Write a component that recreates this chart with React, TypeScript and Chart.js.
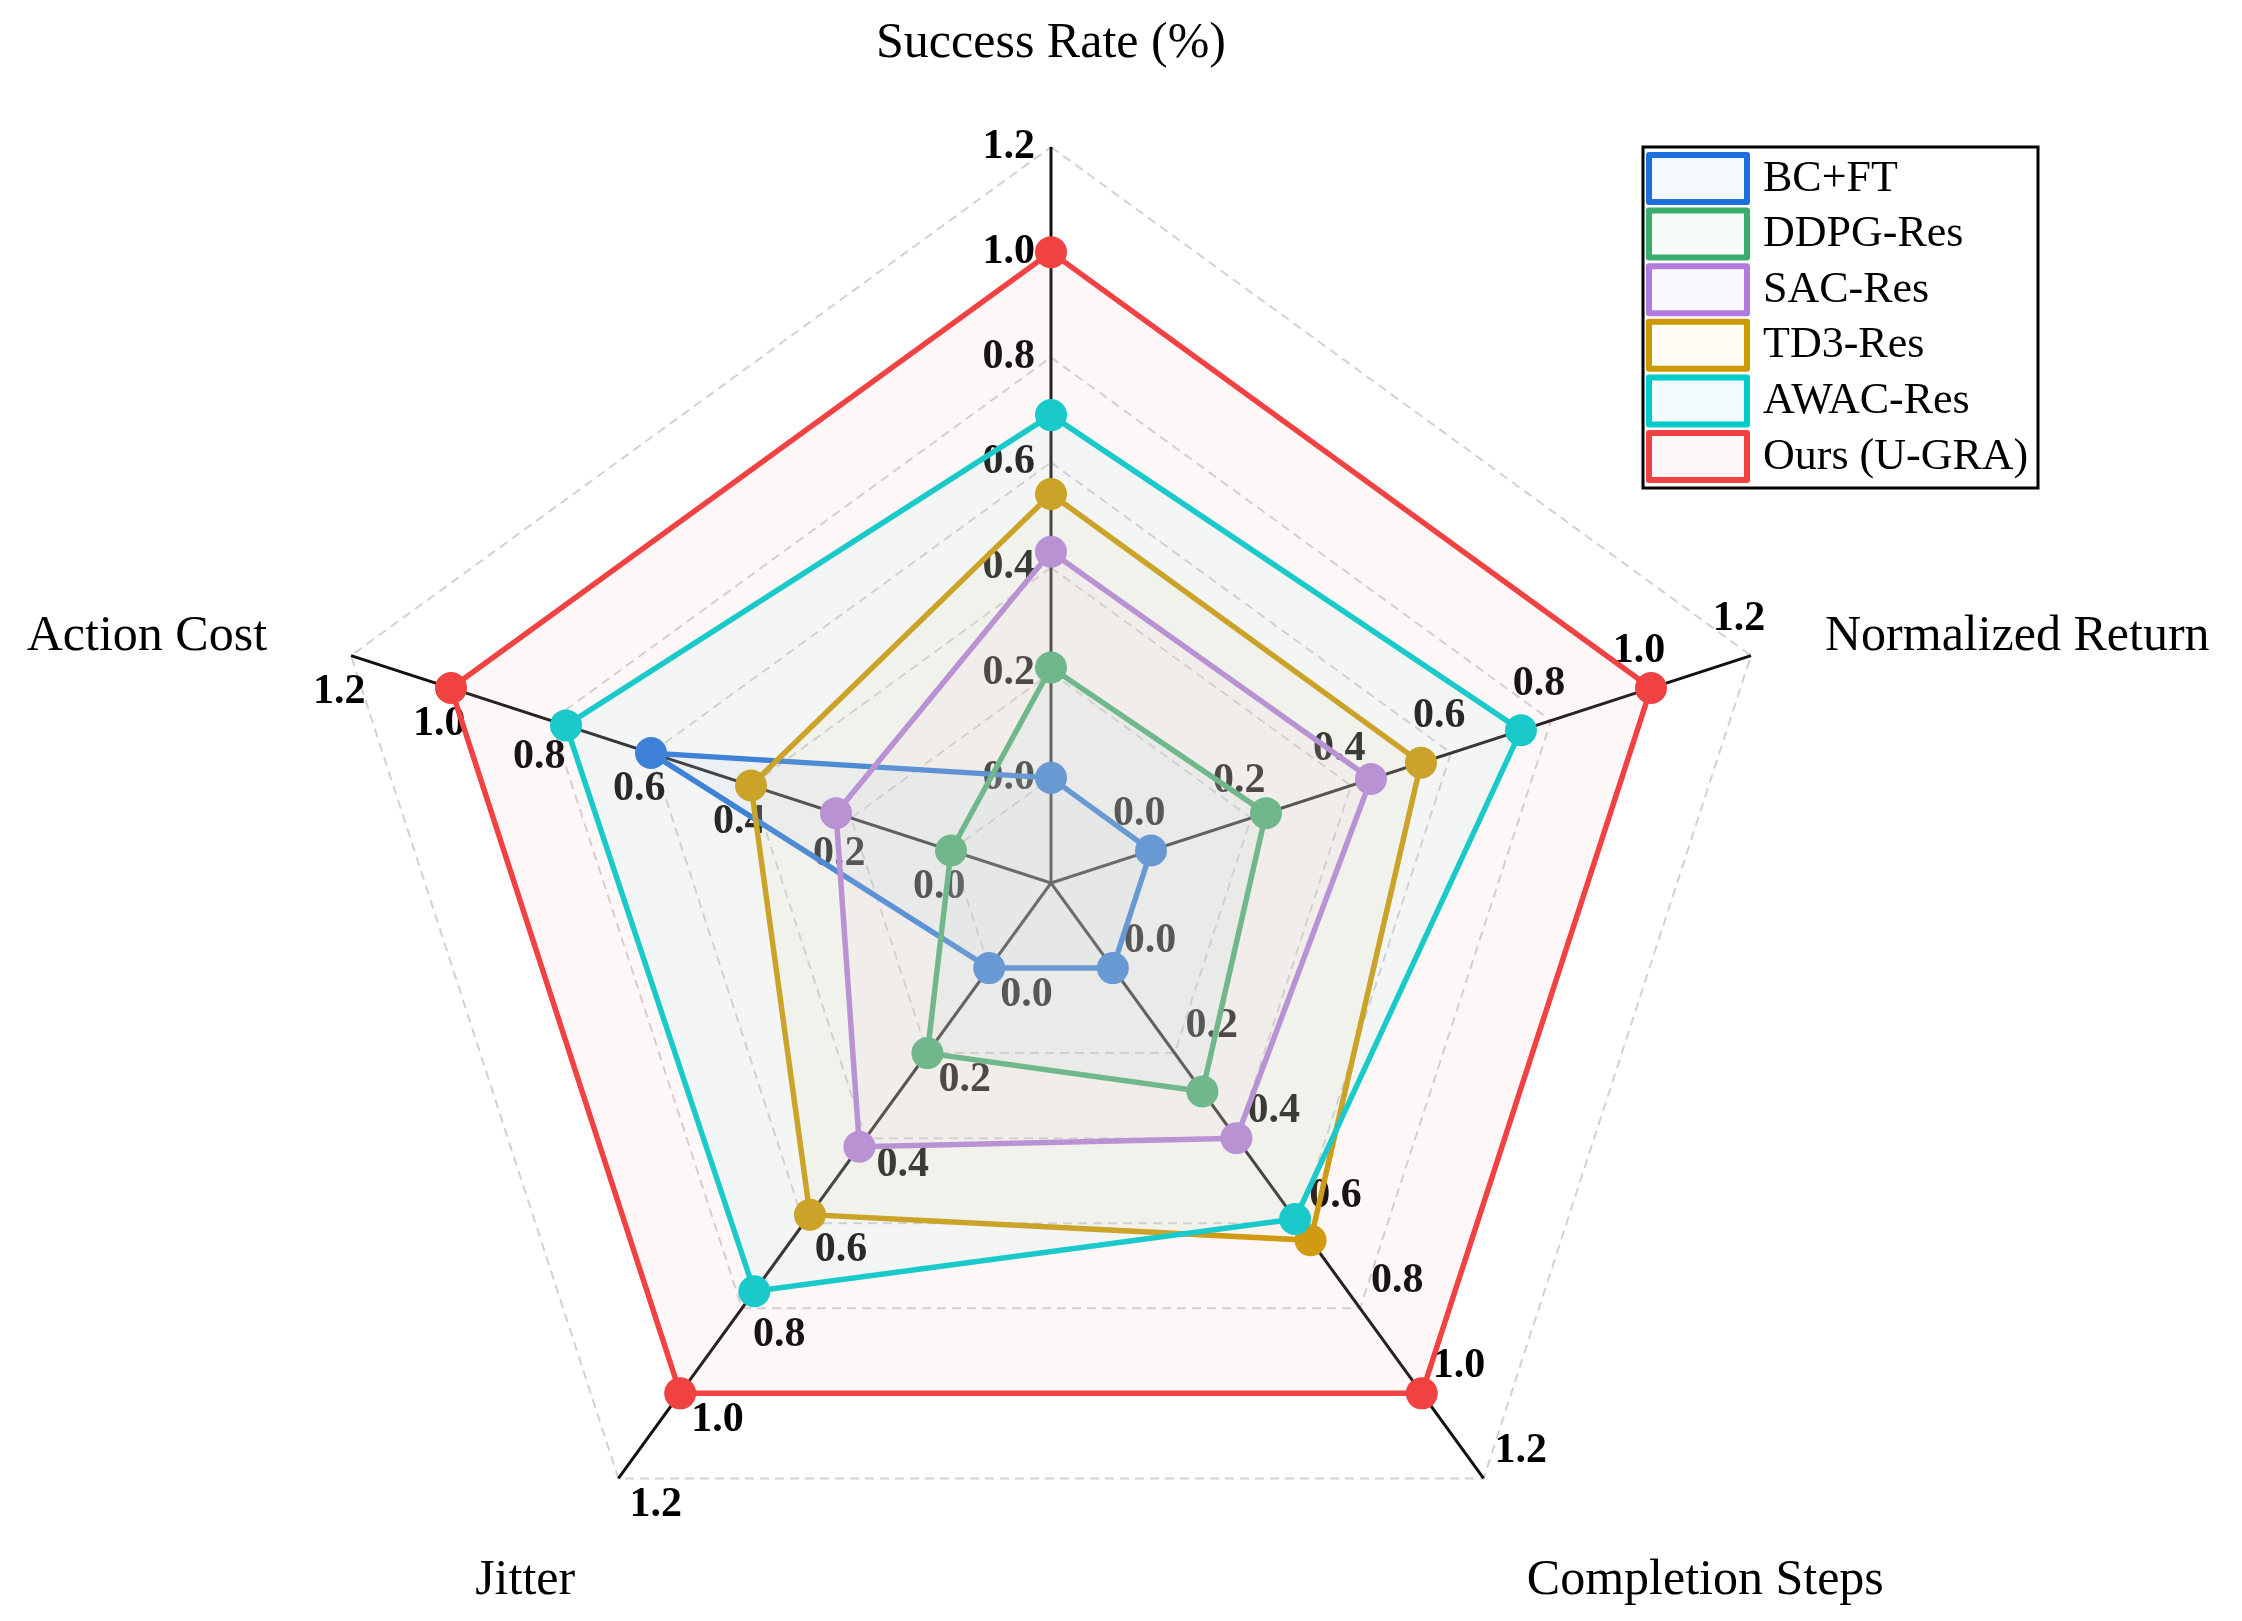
import React, { useEffect, useRef } from 'react';
import { Chart, registerables } from 'chart.js';

Chart.register(...registerables);

// axes, clockwise from the top
const axisLabels = ['Success Rate (%)', 'Normalized Return', 'Completion Steps', 'Jitter', 'Action Cost'];
const methods = ['BC+FT', 'DDPG-Res', 'SAC-Res', 'TD3-Res', 'AWAC-Res', 'Ours (U-GRA)'];

const bcftValues = [0.0, 0.0, 0.0, 0.0, 0.6];
const ddpgValues = [0.21, 0.23, 0.29, 0.2, 0.0];
const sacValues = [0.43, 0.44, 0.4, 0.42, 0.23];
const td3Values = [0.54, 0.54, 0.64, 0.58, 0.4];
const awacValues = [0.69, 0.74, 0.59, 0.76, 0.77];
const oursValues = [1.0, 1.0, 1.0, 1.0, 1.0];

const tickValues = [0.0, 0.2, 0.4, 0.6, 0.8, 1.0, 1.2];
const tickLabels = ['0.0', '0.2', '0.4', '0.6', '0.8', '1.0', '1.2'];

const colors = ['#1c70dc', '#3aac6c', '#b07ade', '#cc9900', '#00cccc', '#f04242'];

const FONT = "'Liberation Serif', 'Times New Roman', serif";

// light tint of the series colour, laid on with low alpha
const fillOf = (hex: string) => {
  const n = parseInt(hex.slice(1), 16);
  const r = (n >> 16) & 255, g = (n >> 8) & 255, b = n & 255;
  const m = (c: number) => Math.round(c * 0.4 + 255 * 0.6);
  return `rgba(${m(r)}, ${m(g)}, ${m(b)}, 0.104)`;
};

const radarDecor = {
  id: 'radarDecor',
  beforeDatasetsDraw(chart: any) {
    const scale = chart.scales.r;
    const ctx = chart.ctx as CanvasRenderingContext2D;
    ctx.save();
    ctx.font = `bold 42px ${FONT}`;
    ctx.textAlign = 'center';
    ctx.textBaseline = 'middle';
    ctx.fillStyle = '#000';
    for (let i = 0; i < axisLabels.length; i++) {
      const e = scale.getPointPositionForValue(i, scale.max);
      let dx = e.x - scale.xCenter;
      let dy = e.y - scale.yCenter;
      const len = Math.hypot(dx, dy);
      dx /= len;
      dy /= len;
      const px = dy, py = -dx;
      tickValues.forEach((v, k) => {
        const p = scale.getPointPositionForValue(i, v);
        const w = ctx.measureText(tickLabels[k]).width;
        const d = 16 + (w / 2) * Math.abs(px) + 15 * Math.abs(py);
        ctx.fillText(tickLabels[k], p.x + px * d, p.y + py * d);
      });
    }
    ctx.restore();
  },
  afterDraw(chart: any) {
    const scale = chart.scales.r;
    const ctx = chart.ctx as CanvasRenderingContext2D;
    ctx.save();

    // axis titles
    ctx.font = `50px ${FONT}`;
    ctx.fillStyle = '#000';
    ctx.textBaseline = 'middle';
    const R = scale.drawingArea;
    axisLabels.forEach((lab, i) => {
      const p = scale.getPointPosition(i, R * 1.1);
      const dx = p.x - scale.xCenter;
      const dy = p.y - scale.yCenter;
      let x = p.x, y = p.y;
      let align: CanvasTextAlign = 'center';
      if (Math.abs(dx) < 1) {
        y -= 30;
      } else {
        align = dx > 0 ? 'left' : 'right';
        if (dy < 0) {
          x += dx > 0 ? 4 : -14;
          y += 4;
        } else {
          y += 43;
        }
      }
      ctx.textAlign = align;
      ctx.fillText(lab, x, y);
    });

    // legend
    const lx = 1643, ly = 147, lw = 395, lh = 341;
    ctx.fillStyle = '#fff';
    ctx.fillRect(lx, ly, lw, lh);
    ctx.strokeStyle = '#000';
    ctx.lineWidth = 3;
    ctx.strokeRect(lx, ly, lw, lh);
    ctx.font = `44px ${FONT}`;
    ctx.textAlign = 'left';
    ctx.lineJoin = 'round';
    methods.forEach((m, k) => {
      const top = 152 + k * 55.6;
      ctx.fillStyle = fillOf(colors[k]);
      ctx.fillRect(1649, top + 3, 98, 47);
      ctx.strokeStyle = colors[k];
      ctx.lineWidth = 6;
      ctx.strokeRect(1649, top + 3, 98, 47);
      ctx.fillStyle = '#000';
      ctx.fillText(m, 1763, top + 27);
    });
    ctx.restore();
  },
};

export default function App() {
  const chartRef = useRef<HTMLCanvasElement>(null);

  useEffect(() => {
    document.body.style.margin = '0';
    if (!chartRef.current) return;
    const series = [bcftValues, ddpgValues, sacValues, td3Values, awacValues, oursValues];

    const chart = new Chart(chartRef.current, {
      type: 'radar',
      data: {
        labels: axisLabels,
        datasets: series.map((values, i) => ({
          label: methods[i],
          data: values,
          borderColor: colors[i],
          backgroundColor: fillOf(colors[i]),
          pointBackgroundColor: colors[i],
          pointBorderColor: colors[i],
          pointBorderWidth: 0,
          pointRadius: 16,
          pointHoverRadius: 16,
          borderWidth: 5.5,
          fill: 'start',
          tension: 0,
          order: series.length - 1 - i,
        })),
      },
      plugins: [radarDecor],
      options: {
        responsive: false,
        animation: false,
        devicePixelRatio: 1,
        layout: { padding: { left: 315, right: 455, top: 147, bottom: 2 } },
        plugins: {
          legend: { display: false },
          tooltip: { enabled: false },
        },
        scales: {
          r: {
            min: -0.2,
            max: 1.2,
            ticks: { stepSize: 0.2, display: false },
            pointLabels: { display: false },
            angleLines: { color: '#111', lineWidth: 3 },
            grid: {
              color: (c: any) => (c.tick && c.tick.value < -0.1 ? 'rgba(0,0,0,0)' : '#d2d2d2'),
              lineWidth: 2,
            },
            border: { dash: [9, 6] },
          },
        },
      } as any,
    });

    return () => chart.destroy();
  }, []);

  return (
    <div style={{ width: 2242, height: 1621, overflow: 'hidden', background: '#fff' }}>
      <canvas ref={chartRef} width={2242} height={1621} style={{ display: 'block', width: 2242, height: 1621 }} />
    </div>
  );
}
